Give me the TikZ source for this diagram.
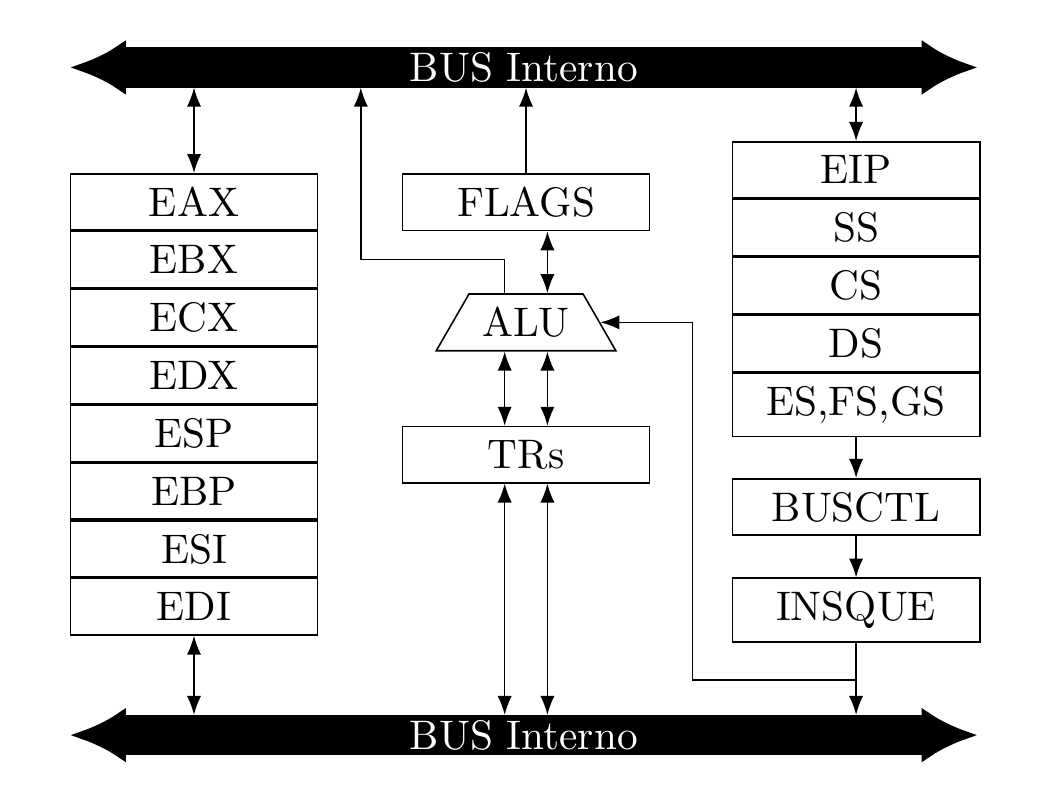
\documentclass[tikz,border=0pt]{standalone}
\usepackage{tikz}
\usetikzlibrary{shapes.geometric, arrows, arrows.meta, positioning}
\tikzstyle{reg} = [rectangle, minimum width=2.2cm, minimum height=0.5cm, text centered, draw=black]
\tikzstyle{aluunit} = [trapezium, trapezium left angle=60, trapezium right angle=60, minimum height=0.5cm, text centered, draw=black]
\tikzstyle{bus} = [line width=0.36cm, {Latex[length=5mm,width=5mm]}-{Latex[length=5mm,width=5mm]}]
\tikzstyle{bustext} = [text=white, inner sep=0pt, outer sep=0pt, minimum height=0.36cm]
\tikzstyle{arrow} = [->,>=Latex]
\tikzstyle{darrow} = [<->,>=Latex]

\begin{document}
\begin{tikzpicture}[font=\fontsize{10.45}{12.5}\selectfont]
	\useasboundingbox (0,0) rectangle (9.457,-7.073);
	% buses
	\draw [bus] (0.62,-0.60) -- (8.70,-0.60) node [bustext, midway] (busup) {BUS Interno};
	\draw [bus] (0.62,-6.54) -- (8.70,-6.54) node [bustext, midway] (busdown) {BUS Interno};
	
	% general registers
	\node (eax) [reg, anchor=north] at (1.726,-1.539) {EAX};
	\node (ebx) [reg, below=0pt of eax] {EBX};
	\node (ecx) [reg, below=0pt of ebx] {ECX};
	\node (edx) [reg, below=0pt of ecx] {EDX};
	\node (esp) [reg, below=0pt of edx] {ESP};
	\node (ebp) [reg, below=0pt of esp] {EBP};
	\node (esi) [reg, below=0pt of ebp] {ESI};
	\node (edi) [reg, below=0pt of esi] {EDI};
	
	% middle
	\node (flags) [reg, anchor=north] at (4.68,-1.539) {FLAGS};
	\node (alu) [aluunit, below=0.55cm of flags] {ALU};
	\node (trs) [reg, below=0.66cm of alu] {TRs};
	
	% segment registers
	\node (eip) [reg, anchor=north] at (7.616,-1.254) {EIP};
	\node (ss) [reg, below=0pt of eip] {SS};
	\node (cs) [reg, below=0pt of ss] {CS};
	\node (ds) [reg, below=0pt of cs] {DS};
	\node (esfsgs) [reg, below=0pt of ds] {ES,FS,GS};
	\node (busctl) [reg, below=0.36cm of esfsgs] {BUSCTL};
	\node (insque) [reg, below=0.37cm of busctl] {INSQUE};
	
	\coordinate (aluout) at (3.21,-2.31);
	\coordinate (feed) at (6.16,-6.05);
	\coordinate (trsl) at ([xshift=-0.19cm]trs.south);
	\coordinate (trsr) at ([xshift=0.19cm]trs.south);
	
	\draw [darrow](eax.north) -- (eax |- busup.south);
	\draw [darrow](edi.south) -- (edi |- busdown.north);
	\draw [arrow](flags.north) -- (flags |- busup.south);
	\draw [arrow]([xshift=-0.19cm]alu.north) |- (aluout) -- (aluout |- busup.south);
	\draw [darrow]([xshift=0.19cm]flags.south) -- ([xshift=0.19cm]alu.north);
	\draw [darrow]([xshift=-0.19cm]alu.south) -- ([xshift=-0.19cm]trs.north);
	\draw [darrow]([xshift=0.19cm]alu.south) -- ([xshift=0.19cm]trs.north);
	\draw [darrow](trsl) -- (trsl |- busdown.north);
	\draw [darrow](trsr) -- (trsr |- busdown.north);
	\draw [darrow](eip.north) -- (eip |- busup.south);
	\draw [arrow](esfsgs) -- (busctl);
	\draw [arrow](busctl) -- (insque);
	\draw [arrow](insque.south) -- (insque |- busdown.north);
	\draw [arrow](insque.south |- feed) -- (feed) |- (alu.east);
\end{tikzpicture}
\end{document}
